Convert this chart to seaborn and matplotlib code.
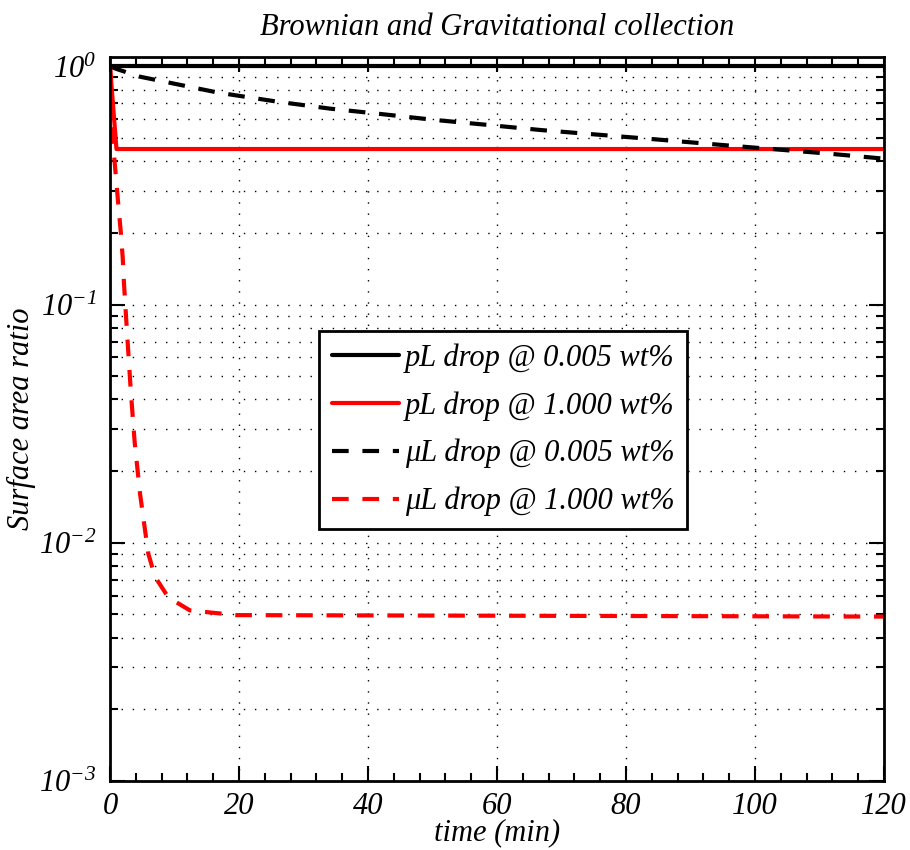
import numpy as np
import pandas as pd
import matplotlib
matplotlib.use("Agg")
import matplotlib.pyplot as plt
from matplotlib.ticker import LogLocator, MultipleLocator, NullFormatter
import seaborn as sns

# values
pl_low_t = [0, 120]
pl_low_v = [1.0, 1.0]

pl_high_t = [0, 1.0, 120]
pl_high_v = [1.0, 0.45, 0.45]

ul_low_t = [0, 1.0, 4.6, 16.8, 26.0, 34.1, 42.3, 50.4, 58.6, 66.7, 74.9,
            83.1, 95.3, 103.5, 111.6, 120]
ul_low_v = [1.0, 0.976, 0.906, 0.776, 0.711, 0.665, 0.630, 0.596, 0.568,
            0.541, 0.519, 0.498, 0.467, 0.448, 0.430, 0.41]

ul_high_t = [0, 0.62, 1.29, 1.66, 1.97, 2.17, 2.43, 2.68, 2.95, 3.21, 3.52,
             3.83, 4.65, 5.43, 5.94, 6.98, 9.04, 12.4, 19.6, 120]
ul_high_v = [1.0, 0.425, 0.262, 0.203, 0.157, 0.122, 0.094, 0.0733, 0.0565,
             0.0438, 0.0339, 0.0263, 0.0161, 0.0113, 0.0090, 0.0072, 0.0059,
             0.0052, 0.00497, 0.0049]

labels = ["pL drop @ 0.005 wt%", "pL drop @ 1.000 wt%",
          "\u03bcL drop @ 0.005 wt%", "\u03bcL drop @ 1.000 wt%"]

sns.set_style("ticks")
plt.rcParams["font.family"] = ["Liberation Serif", "DejaVu Serif"]
plt.rcParams["font.style"] = "italic"
plt.rcParams["mathtext.fontset"] = "custom"
plt.rcParams["mathtext.rm"] = "Liberation Serif:italic"
plt.rcParams["mathtext.it"] = "Liberation Serif:italic"
plt.rcParams["text.color"] = "black"
plt.rcParams["axes.labelcolor"] = "black"
plt.rcParams["xtick.color"] = "black"
plt.rcParams["ytick.color"] = "black"

fs = 22
fig = plt.figure(figsize=(9.1, 8.5), dpi=100)
ax = fig.add_axes([0.1209, 0.0812, 0.8505, 0.8518])

dash = (0, (4, 3.3))
series = [
    (pl_low_t, pl_low_v, "black", "-"),
    (pl_high_t, pl_high_v, "red", "-"),
    (ul_low_t, ul_low_v, "black", dash),
    (ul_high_t, ul_high_v, "red", dash),
]
for (t, v, c, ls), lab in zip(series, labels):
    df = pd.DataFrame({"t": t, "v": v})
    sns.lineplot(data=df, x="t", y="v", ax=ax, color=c, lw=3,
                 linestyle=ls, label=lab)

ax.set_yscale("log")
ax.set_xlim(0, 120)
ax.set_ylim(1e-3, 1.096)
ax.xaxis.set_major_locator(MultipleLocator(20))
ax.xaxis.set_minor_locator(MultipleLocator(4))
ax.yaxis.set_major_locator(LogLocator(base=10, numticks=10))
ax.yaxis.set_minor_locator(LogLocator(base=10, subs=np.arange(2, 10), numticks=10))
ax.yaxis.set_minor_formatter(NullFormatter())

ax.set_axisbelow(True)
dot = (0, (1, 7))
ax.grid(True, which="major", axis="x", linestyle=dot, color="black", lw=1)
ax.grid(True, which="both", axis="y", linestyle=dot, color="black", lw=1)

ax.tick_params(which="both", direction="in", top=True, right=True,
               width=1.5, color="black", labelsize=fs, labelcolor="black")
ax.tick_params(which="major", length=11)
ax.tick_params(which="minor", length=6)
ax.tick_params(axis="y", pad=10)
ax.tick_params(axis="x", pad=8)
for s in ax.spines.values():
    s.set_linewidth(2)
    s.set_color("black")

ax.set_xlabel("time (min)", fontsize=fs, labelpad=-2)
ax.set_ylabel("Surface area ratio", fontsize=fs, labelpad=2)
ax.set_title("Brownian and Gravitational collection", fontsize=fs, pad=16)

leg = ax.legend(loc="center", bbox_to_anchor=(0.508, 0.485), fontsize=fs,
                frameon=True, fancybox=False, framealpha=1, edgecolor="black",
                handlelength=2.2, handletextpad=0.2, labelspacing=0.6,
                borderpad=0.4)
leg.get_frame().set_linewidth(2)

fig.savefig("out.png", dpi=100)
